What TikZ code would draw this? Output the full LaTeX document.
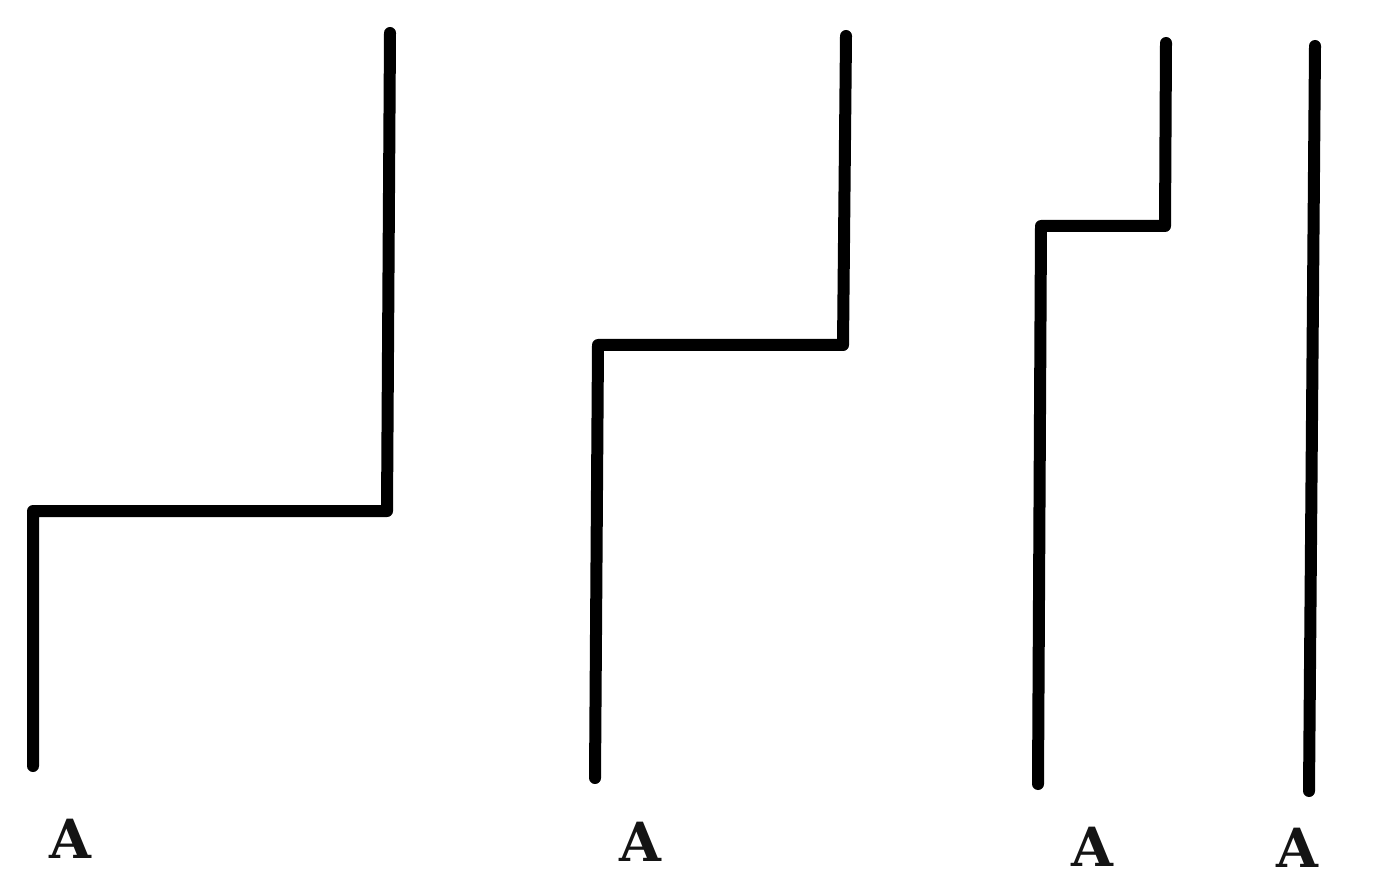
\documentclass[tikz,border=0pt]{standalone}
\usepackage{fontspec}
\newfontfamily\letterfont{DejaVu Serif}
\begin{document}
\begin{tikzpicture}[x=1pt,y=-1pt,
  stepline/.style={line width=12pt,line join=round,line cap=round,black},
  lbl/.style={font=\fontsize{54}{54}\letterfont\bfseries,inner sep=0pt,text=black!92}]
\useasboundingbox (0,0) rectangle (1400,882);
% figure 1
\coordinate (a1) at (33,766);
\coordinate (b1) at (33,511);
\coordinate (c1) at (387,511);
\coordinate (d1) at (390,33);
\draw[stepline] (a1) -- (b1) -- (c1) -- (d1);
\node[lbl] (l1) at (70,839) {A};
% figure 2
\coordinate (a2) at (595,778);
\coordinate (b2) at (598,345);
\coordinate (c2) at (843,345);
\coordinate (d2) at (846,36);
\draw[stepline] (a2) -- (b2) -- (c2) -- (d2);
\node[lbl] (l2) at (640,842) {A};
% figure 3
\coordinate (a3) at (1038,784);
\coordinate (b3) at (1041,226);
\coordinate (c3) at (1165,226);
\coordinate (d3) at (1166,43);
\draw[stepline] (a3) -- (b3) -- (c3) -- (d3);
\node[lbl] (l3) at (1092,847) {A};
% figure 4
\coordinate (a4) at (1309,791);
\coordinate (d4) at (1315,46);
\draw[stepline] (a4) -- (d4);
\node[lbl] (l4) at (1297,848) {A};
\end{tikzpicture}
\end{document}
